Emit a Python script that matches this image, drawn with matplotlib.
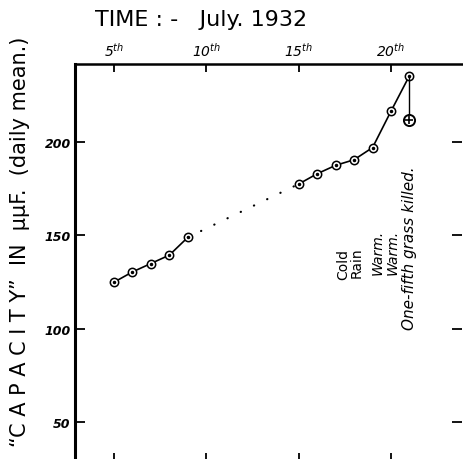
#!/usr/bin/env python3
"""Daily mean capacity of grass, July 1932 (hand-drawn style figure)."""

import matplotlib
matplotlib.use("Agg")
import matplotlib.pyplot as plt

# data
days_early = [5, 6, 7, 8, 9]
cap_early = [125, 130.5, 135, 139.5, 149]
days_gap = [9, 15]
cap_gap = [149, 177.5]
days_late = [15, 16, 17, 18, 19, 20, 21]
cap_late = [177.5, 183, 187.5, 190.5, 197, 216.5, 235.5]
day_killed = 21
cap_killed = 212

x_ticks = [5, 10, 15, 20]
x_ticklabels = [r"5$^{th}$", r"10$^{th}$", r"15$^{th}$", r"20$^{th}$"]
y_ticks = [50, 100, 150, 200]

notes = ["Cold", "Rain", "Warm.", "Warm.", "One-fifth grass killed."]
note_days = [17.4, 18.15, 19.25, 20.1, 21.0]
note_caps = [126.7, 128.0, 129.2, 129.2, 100.0]
note_italic = [False, False, True, True, True]
note_sizes = [10, 10, 10, 10, 11]

fig = plt.figure(figsize=(4.64, 4.60), dpi=100)
ax = fig.add_axes([0.1616, -0.0043, 0.834, 0.863])

mk = dict(marker="o", markersize=6, mfc="white", mec="black", mew=1.1)
ax.plot(days_early, cap_early, "-", color="black", lw=1.2, **mk)
ax.plot(days_early, cap_early, ".", color="black", ms=3)
ax.plot(days_gap, cap_gap, color="black", lw=1.6,
        linestyle=(0, (0.1, 6.5)), dash_capstyle="round")
ax.plot(days_late, cap_late, "-", color="black", lw=1.2, **mk)
ax.plot(days_late, cap_late, ".", color="black", ms=3)
ax.plot([day_killed, day_killed], [cap_late[-1], cap_killed], "-",
        color="black", lw=1.0)
ax.plot([day_killed], [cap_killed], marker="o", ms=8, mfc="white",
        mec="black", mew=1.4)
ax.plot([day_killed], [cap_killed], marker="+", ms=6, color="black", mew=1.2)

for txt, d, c, it, fs in zip(notes, note_days, note_caps, note_italic,
                             note_sizes):
    ax.text(d, c, txt, rotation=90, ha="center", va="bottom",
            fontsize=fs, style="italic" if it else "normal")

ax.set_xlim(2.89, 23.84)
ax.set_ylim(29.4, 241.7)
ax.set_xticks(x_ticks)
ax.set_xticklabels(x_ticklabels, fontsize=10, style="italic")
ax.set_yticks(y_ticks)
ax.set_yticklabels([str(v) for v in y_ticks], fontsize=9,
                   style="italic", weight="bold")
ax.tick_params(axis="x", direction="in", top=True, bottom=True,
               labeltop=True, labelbottom=False, length=6, width=1.3, pad=4)
ax.tick_params(axis="y", direction="in", left=True, right=True,
               length=7, width=1.3, pad=3)

ax.spines["right"].set_visible(False)
ax.spines["bottom"].set_visible(False)
ax.spines["left"].set_linewidth(2.2)
ax.spines["top"].set_linewidth(1.8)

fig.text(0.205, 0.957, "TIME : -   July. 1932", fontsize=16,
         ha="left", va="center")
fig.text(0.043, 0.474,
         "\u201cC A P A C I T Y\u201d  IN  \u03bc\u03bcF.  (daily mean.)",
         fontsize=15, rotation=90, ha="center", va="center")

fig.savefig("out.png", dpi=100)
